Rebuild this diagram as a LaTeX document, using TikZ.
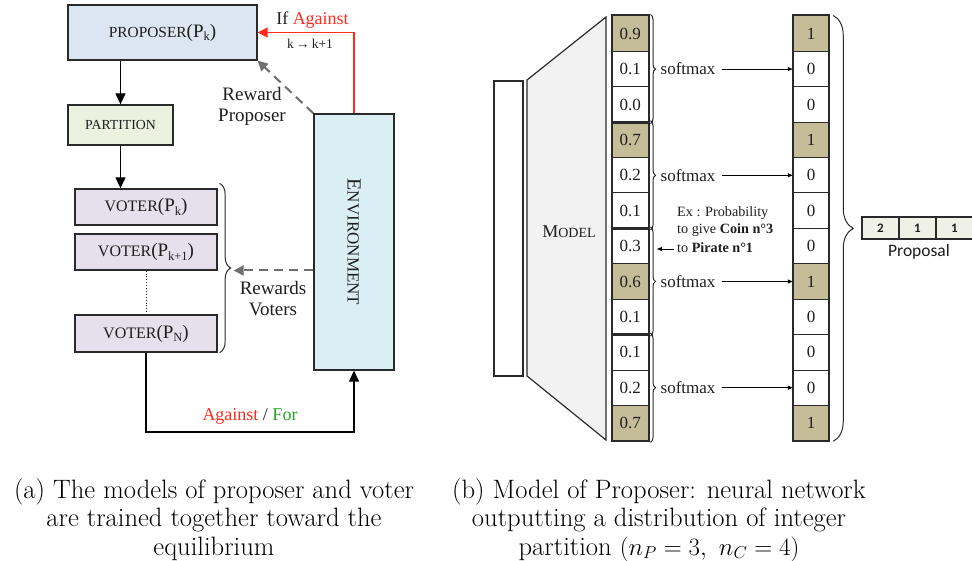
\documentclass[tikz,border=0pt]{standalone}
\usepackage{fontspec}
\usetikzlibrary{arrows.meta,decorations.pathreplacing,calc}
\newfontfamily\cam{Liberation Serif}
\newfontfamily\calib{Carlito}
\definecolor{ink}{HTML}{1E1E1E}
\definecolor{edge}{HTML}{2A2A2A}
\definecolor{propfill}{HTML}{DCE6F2}
\definecolor{partfill}{HTML}{EBF1DE}
\definecolor{votefill}{HTML}{E5E0EC}
\definecolor{envfill}{HTML}{DAEEF3}
\definecolor{modelfill}{HTML}{F2F2F2}
\definecolor{tanc}{HTML}{C4BD97}
\definecolor{propcell}{HTML}{EFF0E6}
\definecolor{redc}{HTML}{FF2A1A}
\definecolor{greenc}{HTML}{22A822}
\definecolor{dashc}{HTML}{6E6E6E}
% agent label: word in capitals, then (P_sub) in a larger size
\newcommand{\agentlabel}[3]{{\fontsize{#1}{#1}\selectfont #2}{\fontsize{19}{19}\selectfont(P\raisebox{-3.5pt}{\fontsize{12.5}{12.5}\selectfont #3})}}
\begin{document}
\begin{tikzpicture}[x=1pt,y=-1pt,
  every node/.style={font=\cam, text=ink},
  box/.style={draw=edge, line width=1.3pt, inner sep=0pt},
  flow/.style={draw=black, line width=1.3pt, -{Triangle[length=11pt,width=10pt]}},
  redflow/.style={draw=redc, line width=1.5pt, -{Triangle[length=10pt,width=10pt]}},
  dashflow/.style={draw=dashc, line width=2pt, dash pattern=on 9pt off 6pt, -{Triangle[length=10pt,width=10pt]}},
  smallflow/.style={draw=black, line width=1.1pt, -{Triangle[length=5pt,width=4pt]}},
  cell/.style={draw=edge, line width=1pt, minimum width=35.5pt, minimum height=35.4pt, inner sep=0pt, font=\cam\fontsize{17}{17}\selectfont},
  bracestyle/.style={draw=edge, line width=1pt, decorate},
  caption/.style={font=\rmfamily\fontsize{26.6}{28.5}\selectfont, text=black, align=center, anchor=north, inner sep=0pt}
]
\useasboundingbox (0,0) rectangle (972,561);

% ---------------- left: proposer / voter loop ----------------
\node[box, fill=propfill, minimum width=189pt, minimum height=55pt] (prop) at (162.5,32.5)
  {\agentlabel{15.4}{PROPOSER}{k}};
\node[box, fill=partfill, minimum width=105pt, minimum height=40pt] (part) at (120.5,125)
  {\fontsize{13.8}{13.8}\selectfont PARTITION};
\node[box, fill=votefill, minimum width=142pt, minimum height=36pt] (vk) at (146,207)
  {\agentlabel{16}{VOTER}{k}};
\node[box, fill=votefill, minimum width=142pt, minimum height=36pt] (vk1) at (146,252)
  {\agentlabel{16}{VOTER}{k+1}};
\node[box, fill=votefill, minimum width=142pt, minimum height=37pt] (vN) at (146,333.5)
  {\agentlabel{16}{VOTER}{N}};
\node[box, fill=envfill, minimum width=80pt, minimum height=256pt] (env) at (354,242) {};
\node[rotate=-90] at (env.center)
  {{\fontsize{20}{20}\selectfont E}{\fontsize{17}{17}\selectfont NVIRONMENT}};

\draw[flow] (prop.south -| part.north) -- (part.north);
\draw[flow] (part.south) -- (part.south |- vk.north);
\draw[edge, line width=0.9pt, dotted] (vk1.south) -- (vN.north);

% voters' brace and their reward
\draw[bracestyle, decoration={brace, amplitude=11pt, aspect=0.5}]
  ([xshift=2pt]vk.north east) ++(0,-5) coordinate (bt) -- ([xshift=2pt]vN.south east) ++(0,5) coordinate (bb);
\coordinate (vtip) at ($(bt)!0.5!(bb)+(14,0)$);
\draw[dashflow] (env.west |- vtip) -- (vtip);
\node[align=center, font=\cam\fontsize{19}{21}\selectfont] at (273,299) {Rewards\\Voters};

% proposer's reward and the next proposer
\draw[dashflow] (env.north west) -- (prop.south east);
\node[align=center, font=\cam\fontsize{19}{21}\selectfont] at (252,106) {Reward\\Proposer};
\draw[redflow] (env.north) |- (prop.east);
\node[font=\cam\fontsize{18}{18}\selectfont] at (312.5,20) {If \textcolor{redc}{Against}};
\node[font=\cam\fontsize{13.5}{13.5}\selectfont] at (310,44) {k\,\char"2192\,k+1};

% votes back to the environment
\coordinate (bend) at (354,432);
\draw[flow] (vN.south) |- (bend) -- (env.south);
\node[font=\cam\fontsize{18}{18}\selectfont] at (250,416) {\textcolor{redc}{Against} / \textcolor{greenc}{For}};

% ---------------- right: proposer network ----------------
\draw[edge, line width=1.2pt, fill=white] (494,81) rectangle (523,376);
\draw[edge, line width=1.2pt, fill=modelfill] (527,80) -- (606,17) -- (606,440) -- (527,376) -- cycle;
\node at (569,232) {{\fontsize{18}{18}\selectfont M}{\fontsize{14}{14}\selectfont ODEL}};

\foreach \a/\b/\f [count=\i from 0] in
  {0.9/1/tanc, 0.1/0/white, 0.0/0/white, 0.7/1/tanc, 0.2/0/white, 0.1/0/white,
   0.3/0/white, 0.6/1/tanc, 0.1/0/white, 0.1/0/white, 0.2/0/white, 0.7/1/tanc}{
  \node[cell, fill=\f] (in\i) at (630.25,{16+35.4*(\i+0.5)}) {\a};
  \node[cell, fill=\f] (out\i) at (811,{16+35.4*(\i+0.5)}) {\b};
}
\draw[edge, line width=2pt] (out0.north west) rectangle (out11.south east);

\foreach \g in {0,1,2,3}{
  \pgfmathtruncatemacro{\first}{3*\g}
  \pgfmathtruncatemacro{\mid}{3*\g+1}
  \pgfmathtruncatemacro{\last}{3*\g+2}
  \draw[edge, line width=2pt] (in\first.north west) rectangle (in\last.south east);
  \draw[bracestyle, decoration={brace, amplitude=5pt}]
    ([xshift=2pt,yshift=1pt]in\first.north east) -- ([xshift=2pt,yshift=-1pt]in\last.south east);
  \node[anchor=west, inner sep=2pt, font=\cam\fontsize{17}{17}\selectfont] (sm\g) at ([xshift=10pt]in\mid.east) {softmax};
  \draw[smallflow, shorten <=4pt] (sm\g.east) -- (out\mid.west);
}

% worked example for one entry
\node[anchor=west, inner sep=0pt, font=\cam\fontsize{14.2}{14.2}\selectfont] (ex1) at (677,213) {Ex : Probability};
\node[anchor=west, inner sep=0pt, font=\cam\fontsize{14.2}{14.2}\selectfont] (ex2) at (677,230.5) {to give \textbf{Coin n°3}};
\node[anchor=west, inner sep=0pt, font=\cam\fontsize{14.2}{14.2}\selectfont] (ex3) at (677,248) {to \textbf{Pirate n°1}};
\coordinate (expt) at (657,249);
\draw[smallflow, line width=0.9pt] ([xshift=-3pt]ex3.west |- expt) -- (expt);

% proposal built from the one-hot column
\draw[bracestyle, decoration={brace, amplitude=20pt, aspect=0.5}]
  ([xshift=4pt]out0.north east) -- ([xshift=4pt]out11.south east);
\foreach \v/\x [count=\j] in {2/880.5, 1/917.5, 1/954.5}{
  \node[box, line width=1.1pt, fill=propcell, minimum width=37pt, minimum height=22pt,
        font=\calib\bfseries\fontsize{13}{13}\selectfont] (p\j) at (\x,228) {\v};
}
\node[font=\calib\fontsize{17.5}{17.5}\selectfont] (plabel) at (919,252) {Proposal};

% ---------------- captions ----------------
\node[caption] (capa) at (214,478) {(a) The models of proposer and voter\\are trained together toward the\\equilibrium};
\node[caption] (capb) at (659,478) {(b) Model of Proposer: neural network\\outputting a distribution of integer\\partition $(n_P=3,\ n_C=4)$};
\end{tikzpicture}
\end{document}
